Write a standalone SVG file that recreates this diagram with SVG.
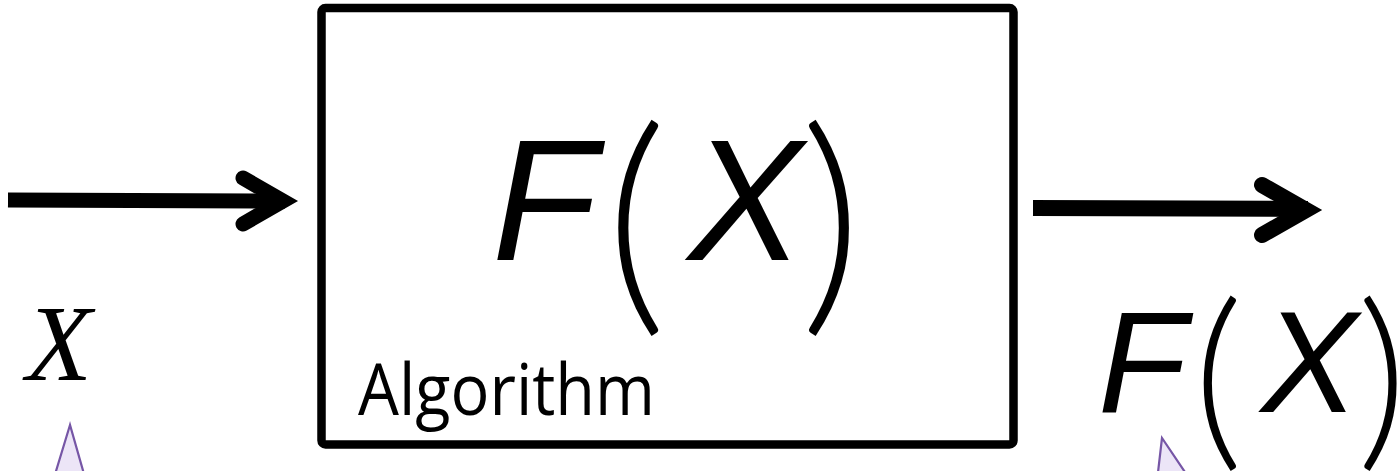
<svg xmlns="http://www.w3.org/2000/svg" width="1398" height="471" viewBox="0 0 1398 471">
<style>
.math{font-family:"Liberation Sans",Arial,sans-serif;font-style:italic;fill:#000}
.paren{font-family:Lato,"Liberation Sans",sans-serif;font-weight:300;fill:#000}
.serif{font-family:"Liberation Serif","Times New Roman",serif;font-style:italic;fill:#000}
.label{font-family:"Open Sans","Liberation Sans",sans-serif;fill:#000}
.shaft{stroke:#000;fill:none;stroke-linecap:butt}
.head{stroke:#000;fill:none;stroke-linecap:round;stroke-linejoin:miter;stroke-miterlimit:10}
.callout{fill:#ECE5F7;stroke:#7656A6;stroke-width:2.2}
</style>
<rect width="1398" height="471" fill="#fff"/>
<g id="connectors">
  <line class="shaft" x1="8" y1="200" x2="285" y2="201" stroke-width="15"/>
  <polyline class="head" points="243,178 283,201 243,224" stroke-width="15"/>
  <line class="shaft" x1="1033" y1="208" x2="1308" y2="209" stroke-width="16"/>
  <polyline class="head" points="1262,185 1306,210 1262,235" stroke-width="16"/>
</g>
<g id="algorithm">
  <rect x="321.5" y="8" width="692" height="436.5" rx="4" fill="none" stroke="#000" stroke-width="8.5"/>
  <text class="math" x="492" y="260" font-size="172">F</text>
  <text class="paren" x="605" y="304" font-size="241">(</text>
  <text class="math" x="688" y="260" font-size="172">X</text>
  <text class="paren" x="800" y="304" font-size="241">)</text>
  <text class="label" x="358" y="415" font-size="72" textLength="297" lengthAdjust="spacingAndGlyphs">Algorithm</text>
</g>
<g id="input">
  <text class="serif" x="26" y="380" font-size="108">X</text>
</g>
<g id="output">
  <text class="math" x="1098" y="412" font-size="145">F</text>
  <text class="paren" x="1193" y="445" font-size="195">(</text>
  <text class="math" x="1261" y="412" font-size="145">X</text>
  <text class="paren" x="1357" y="445" font-size="195">)</text>
</g>
<g id="callouts">
  <polygon class="callout" points="70,425 53,481 86,481"/>
  <polygon class="callout" points="1162,438 1157,481 1191,481"/>
</g>
</svg>
